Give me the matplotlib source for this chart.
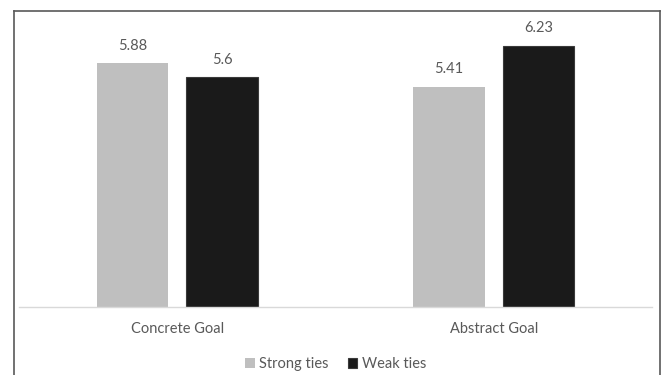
import matplotlib.pyplot as plt
import numpy as np
from matplotlib.lines import Line2D

# 数据
categories = ['Concrete Goal', 'Abstract Goal']
strong_ties = [5.88, 5.41]
weak_ties = [5.6, 6.23]
series_names = ['Strong ties', 'Weak ties']
colors = ['#bfbfbf', '#1a1a1a']

plt.rcParams['font.family'] = ['Lato', 'DejaVu Sans']
text_color = '#595959'
fs = 10.5

fig = plt.figure(figsize=(6.62, 3.75), dpi=100)
ax = fig.add_axes([19 / 662, 1 - 307 / 375, 633 / 662, 300 / 375])

x = np.arange(len(categories))
width = 0.226
offset = 0.142

bars1 = ax.bar(x - offset, strong_ties, width, bottom=0, color=colors[0],
               label=series_names[0])
bars2 = ax.bar(x + offset, weak_ties, width, color=colors[1],
               edgecolor='#3a3a3a', linewidth=0.8, label=series_names[1])

# 数值标签
for bars, vals in [(bars1, strong_ties), (bars2, weak_ties)]:
    for b, v in zip(bars, vals):
        ax.annotate(f'{v:g}', (b.get_x() + b.get_width() / 2, v),
                    xytext=(0, 7.5), textcoords='offset points',
                    ha='center', va='bottom', fontsize=fs, color=text_color)

ax.set_xlim(-0.5, 1.5)
ax.set_ylim(1, 7)
ax.set_yticks([])
ax.set_xticks(x)
ax.set_xticklabels(categories, fontsize=fs, color=text_color)
ax.tick_params(axis='x', length=0, pad=11)
for s in ['top', 'right', 'left']:
    ax.spines[s].set_visible(False)
ax.spines['bottom'].set_color('#d9d9d9')
ax.spines['bottom'].set_linewidth(1)

# 图例
ax.legend(loc='center', bbox_to_anchor=(0.507, 1 - 364 / 375), bbox_transform=fig.transFigure,
          ncol=2, frameon=False, fontsize=fs, labelcolor=text_color,
          handlelength=0.65, handleheight=0.65, handletextpad=0.3, columnspacing=1.3)

# 外框
bc = '#595959'
fig.add_artist(Line2D([14 / 662, 14 / 662], [0, 1 - 11 / 375], color=bc, lw=1.2))
fig.add_artist(Line2D([14 / 662, 660 / 662], [1 - 11 / 375, 1 - 11 / 375], color=bc, lw=1.2))
fig.add_artist(Line2D([660 / 662, 660 / 662], [0, 1 - 11 / 375], color=bc, lw=1.2))

fig.savefig('out.png', dpi=100)
